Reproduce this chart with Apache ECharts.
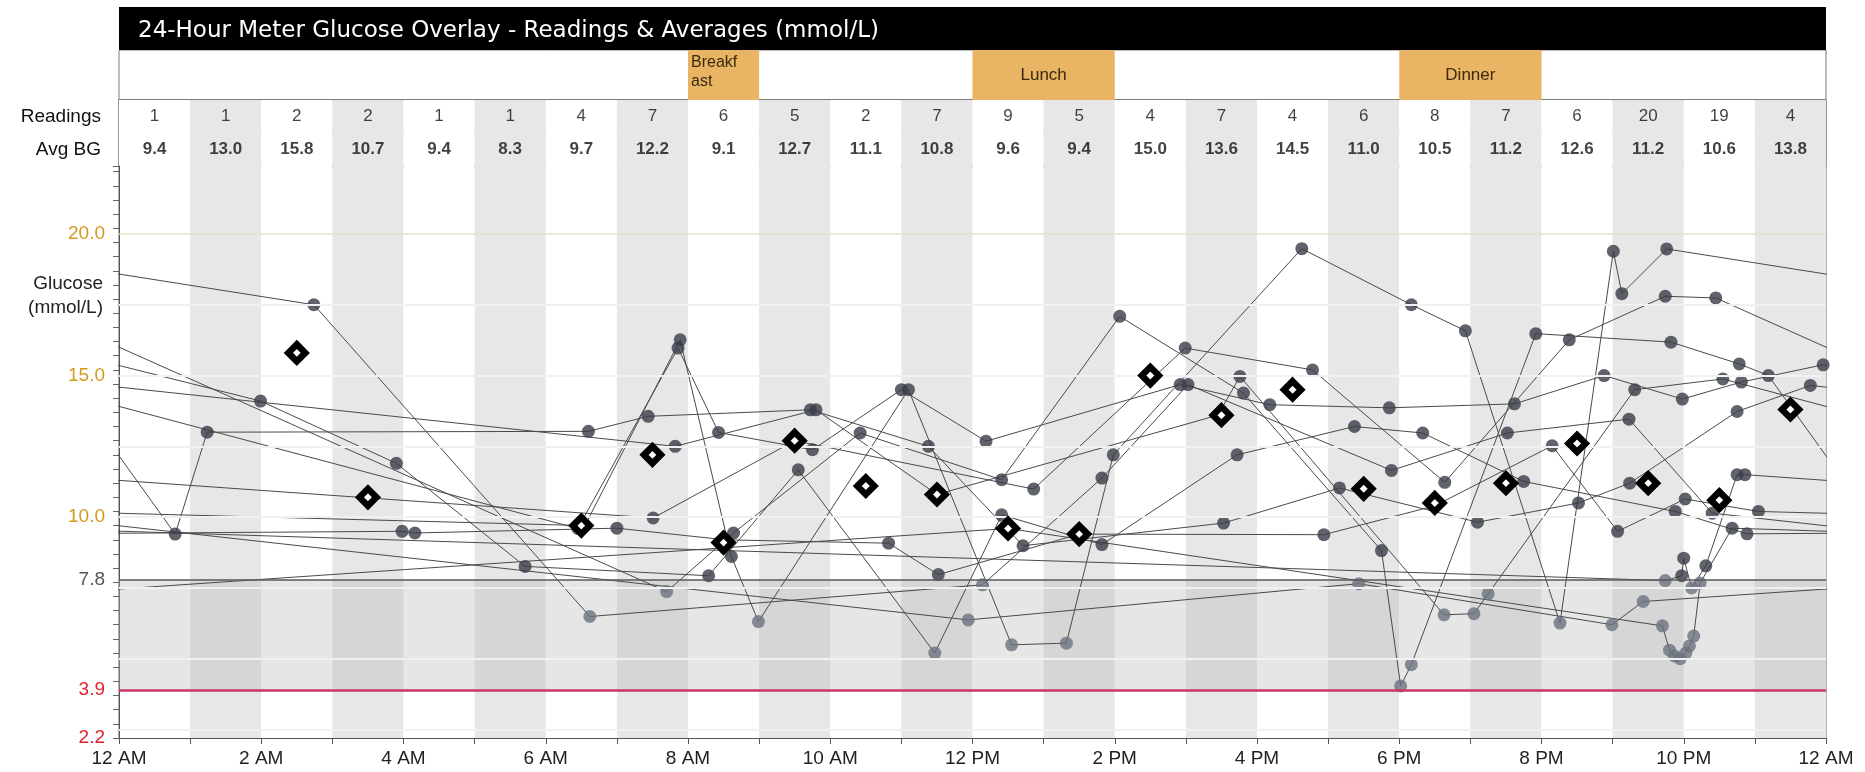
<!DOCTYPE html>
<html>
<head>
<meta charset="utf-8" />
<script src="https://cdn.jsdelivr.net/npm/echarts@6/dist/echarts.min.js"></script>
<style>
  html, body { margin: 0; padding: 0; background: #fff; }
  #main { width: 1865px; height: 772px; }
</style>
</head>
<body>
<div id="main"></div>
<script type="text/javascript">
// ---- data ----
var hourLabels = ['12 AM', '2 AM', '4 AM', '6 AM', '8 AM', '10 AM', '12 PM', '2 PM', '4 PM', '6 PM', '8 PM', '10 PM', '12 AM'];
var readingsCount = [1, 1, 2, 2, 1, 1, 4, 7, 6, 5, 2, 7, 9, 5, 4, 7, 4, 6, 8, 7, 6, 20, 19, 4];
var avgBG = [9.4, 13.0, 15.8, 10.7, 9.4, 8.3, 9.7, 12.2, 9.1, 12.7, 11.1, 10.8, 9.6, 9.4, 15.0, 13.6, 14.5, 11.0, 10.5, 11.2, 12.6, 11.2, 10.6, 13.8];
var meals = [['Breakfast', 8, 9], ['Lunch', 12, 14], ['Dinner', 18, 20]];
var yLabelValues = [2.2, 3.9, 7.8, 10, 15, 20];
var gridValues = [2.5, 5, 7.5, 10, 12.5, 15, 17.5];
var highLine = 20, targetLow = 7.8, hypoLine = 3.9;

// readings per day: [hour of day, mmol/L]
var day1 = [[0.79, 9.4], [1.24, 13.0], [6.6, 13.03], [7.44, 13.56], [9.72, 13.79], [11.38, 12.5], [12.71, 8.99], [15.53, 9.79], [17.16, 11.03], [19.1, 9.82], [20.52, 10.5], [21.24, 11.2], [22.75, 13.73], [23.78, 14.65]];
var day2 = [[1.99, 14.1], [3.9, 11.9], [5.71, 8.26], [8.29, 7.93], [9.55, 11.67], [11.47, 5.2], [12.41, 10.08], [13.82, 9.03], [15.72, 12.2], [17.37, 13.2], [18.33, 12.97], [19.75, 11.26], [21.88, 10.2], [22.89, 9.41]];
var day3 = [[2.74, 17.5], [6.62, 6.49], [12.14, 7.61], [13.82, 11.38], [15.03, 14.68], [17.89, 11.65], [19.52, 12.97], [21.23, 13.46], [22.4, 10.14]];
var day4 = [[3.98, 9.5], [4.16, 9.44], [7.0, 9.61], [8.52, 9.2], [10.82, 9.08], [11.52, 7.97], [13.5, 9.4], [16.94, 9.38], [18.5, 10.4], [20.15, 12.52], [21.07, 9.5], [22.02, 10.64], [23.05, 10.2]];
var day5 = [[6.45, 9.6], [7.86, 15.97], [8.43, 12.99], [9.75, 12.38], [11.0, 14.5], [12.19, 12.68], [14.92, 14.68], [16.18, 13.97], [17.86, 13.86], [19.62, 14.0], [20.88, 15.0], [21.98, 14.17], [22.81, 14.77], [23.96, 15.38]];
var day6 = [[6.55, 9.7], [7.89, 16.26], [8.61, 8.61], [8.99, 6.31], [11.1, 14.5], [12.55, 5.49], [13.32, 5.55], [13.98, 12.2], [16.63, 19.48], [18.17, 17.5], [18.93, 16.58], [20.26, 6.26], [21.01, 19.39], [21.13, 17.89], [21.76, 19.47]];
var day7 = [[7.51, 9.97], [9.5, 12.7], [12.86, 10.99], [14.99, 15.97], [16.78, 15.2], [18.64, 11.23], [20.39, 16.26], [21.74, 17.8], [22.45, 17.74]];
var day8 = [[7.7, 7.37], [8.64, 9.44], [10.42, 12.97], [12.41, 11.32], [14.07, 17.09], [15.81, 14.38], [17.75, 8.82], [18.02, 4.04], [18.17, 4.79], [19.92, 16.48], [21.82, 16.18], [22.78, 15.41], [23.19, 15.0]];
var day9 = [[7.82, 12.5], [9.8, 13.79], [11.5, 10.8], [15.45, 13.6], [15.76, 14.97], [18.63, 6.55], [19.05, 6.59], [19.25, 7.29], [21.31, 14.5], [22.55, 14.88]];
var day10 = [[11.94, 6.37], [17.43, 7.65], [20.99, 6.2], [21.43, 7.02]];
var day11 = [[12.5, 9.6], [21.7, 6.16], [21.8, 5.3], [21.87, 5.1], [21.95, 5.0], [22.03, 5.2], [22.08, 5.45], [22.14, 5.8], [22.23, 7.67], [22.68, 9.61]];
var day12 = [[21.74, 7.76], [21.97, 7.93], [22.0, 8.55], [22.11, 7.5], [22.31, 8.28], [22.75, 11.5], [22.86, 11.5]];

// consecutive days, so each day's trace continues into the next one
var dayOrder = [day8, day1, day9, day5, day2, day4, day6, day3, day10, day11, day12, day7];

// ---- build series ----
var FONT = 'Liberation Sans, Arial, sans-serif';
var series = [];

// light horizontal grid lines
series.push({
  type: 'line', xAxisIndex: 0, yAxisIndex: 0, data: [], z: 1, silent: true,
  markLine: {
    symbol: 'none', silent: true, label: { show: false },
    data: gridValues.map(function (v) {
      return { yAxis: v, lineStyle: { color: '#f1f1f1', width: 2, type: 'solid' } };
    }).concat([{ yAxis: highLine, lineStyle: { color: '#e4e4c2', width: 1.5, type: 'solid' } }])
  }
});

// shaded 3.9-7.8 zone
series.push({
  type: 'line', xAxisIndex: 0, yAxisIndex: 0, data: [], z: 1, silent: true,
  markArea: {
    silent: true,
    itemStyle: { color: 'rgba(185,185,185,0.36)' },
    data: [[{ yAxis: hypoLine }, { yAxis: targetLow }]]
  }
});

// day traces (wrap to previous / next day across midnight)
var n = dayOrder.length;
dayOrder.forEach(function (d, i) {
  var prev = dayOrder[(i - 1 + n) % n];
  var next = dayOrder[(i + 1) % n];
  var p = prev[prev.length - 1];
  var q = next[0];
  var pts = [[p[0] - 24, p[1]]].concat(d).concat([[q[0] + 24, q[1]]]);
  series.push({
    type: 'line', xAxisIndex: 0, yAxisIndex: 0, data: pts, showSymbol: false, symbol: 'none',
    lineStyle: { color: '#4a4a4a', width: 1 }, z: 2, silent: true, clip: true
  });
});

// individual readings (lighter below the target range)
var allReadings = [];
dayOrder.forEach(function (d) { allReadings = allReadings.concat(d); });
series.push({
  type: 'scatter', xAxisIndex: 0, yAxisIndex: 0, data: allReadings, symbolSize: 13,
  itemStyle: {
    color: function (p) { return p.value[1] < targetLow ? '#6c7380' : '#383c46'; }
  },
  z: 3, silent: true
});

// threshold lines
series.push({
  type: 'line', xAxisIndex: 0, yAxisIndex: 0, data: [], z: 4, silent: true,
  markLine: {
    symbol: 'none', silent: true, label: { show: false },
    data: [
      { yAxis: targetLow, lineStyle: { color: '#5a5a5a', width: 1.5, type: 'solid' } },
      { yAxis: hypoLine, lineStyle: { color: '#cc3366', width: 2.5, type: 'solid' } }
    ]
  }
});

// hourly averages (hours with 2+ readings)
var avgPoints = [];
avgBG.forEach(function (v, h) { if (readingsCount[h] >= 2) avgPoints.push([h + 0.5, v]); });
series.push({
  type: 'scatter', xAxisIndex: 0, yAxisIndex: 0, data: avgPoints, symbol: 'diamond', symbolSize: 17,
  itemStyle: { color: '#ffffff', borderColor: '#000000', borderWidth: 6.5, opacity: 1 }, z: 6, silent: true
});

// table rows
series.push({
  type: 'scatter', xAxisIndex: 1, yAxisIndex: 1, symbolSize: 0, silent: true,
  data: readingsCount.map(function (c, i) { return [i, 'Readings', c]; }),
  label: { show: true, position: 'inside', formatter: function (p) { return p.value[2]; },
    color: '#111', fontSize: 17, fontFamily: FONT }
});
series.push({
  type: 'scatter', xAxisIndex: 1, yAxisIndex: 1, symbolSize: 0, silent: true,
  data: avgBG.map(function (v, i) { return [i, 'Avg BG', v.toFixed(1)]; }),
  label: { show: true, position: 'inside', formatter: function (p) { return p.value[2]; },
    color: '#111', fontSize: 17, fontWeight: 'bold', fontFamily: FONT }
});

// meal blocks
series.push({
  type: 'custom', xAxisIndex: 2, yAxisIndex: 2, silent: true,
  data: meals.map(function (m) { return [m[1], m[2], m[0]]; }),
  renderItem: function (params, api) {
    var a = api.coord([api.value(0), 1]);
    var b = api.coord([api.value(1), 0]);
    var w = b[0] - a[0];
    var name = meals[params.dataIndex][0];
    var narrow = w < 100;
    return {
      type: 'rect',
      shape: { x: a[0], y: a[1], width: w, height: b[1] - a[1] },
      style: { fill: '#e9b463' },
      textContent: {
        style: { text: name, fill: '#3a2a10', font: (narrow ? '16px ' : '17px ') + FONT,
          width: narrow ? 54 : undefined, overflow: narrow ? 'breakAll' : undefined, lineHeight: 19 }
      },
      textConfig: { position: narrow ? 'insideTopLeft' : 'inside', distance: 3 }
    };
  }
});

var option = {
  animation: false,
  backgroundColor: '#fff',
  title: {
    text: '24-Hour Meter Glucose Overlay - Readings & Averages (mmol/L)',
    left: 133, top: 15,
    textStyle: { color: '#fff', fontSize: 23, fontWeight: 'normal', fontFamily: 'DejaVu Sans' }
  },
  graphic: [
    { type: 'rect', z: 0, shape: { x: 119, y: 7, width: 1707, height: 43 }, style: { fill: '#000' } },
    { type: 'text', z: 10, x: 103, y: 272,
      style: { text: 'Glucose\n(mmol/L)', align: 'right', verticalAlign: 'top', fill: '#222',
        font: '19px ' + FONT, lineHeight: 24 } }
  ],
  grid: [
    { left: 119, right: 39, top: 166, bottom: 34, show: true, borderColor: '#666', borderWidth: 1 },
    { left: 119, right: 39, top: 100, height: 66, show: true, borderColor: '#7a7a7a', borderWidth: 1.5 },
    { left: 119, right: 39, top: 50, height: 50, show: true, borderColor: '#7a7a7a', borderWidth: 1 }
  ],
  xAxis: [
    {
      gridIndex: 0, type: 'value', min: 0, max: 24, interval: 1,
      axisLine: { show: true, lineStyle: { color: '#555' } },
      axisTick: { show: true, length: 6, lineStyle: { color: '#555' } },
      axisLabel: {
        margin: 11, fontSize: 19, color: '#222', fontFamily: FONT,
        formatter: function (v) { return v % 2 === 0 ? hourLabels[v / 2] : ''; }
      },
      splitLine: { show: false },
      splitArea: { show: true, areaStyle: { color: ['#ffffff', '#e7e7e7'] } }
    },
    {
      gridIndex: 1, type: 'category', data: readingsCount.map(function (c, i) { return i; }),
      axisLine: { show: false }, axisTick: { show: false }, axisLabel: { show: false },
      splitLine: { show: false },
      splitArea: { show: true, areaStyle: { color: ['#ffffff', '#e7e7e7'] } }
    },
    { gridIndex: 2, type: 'value', min: 0, max: 24, show: false }
  ],
  yAxis: [
    {
      gridIndex: 0, type: 'value', min: 2.2, max: 22.4, interval: 0.5,
      axisLine: { show: true, lineStyle: { color: '#555' } },
      axisTick: { show: true, length: 6, lineStyle: { color: '#666' } },
      axisLabel: {
        customValues: yLabelValues, margin: 14, fontFamily: FONT,
        formatter: function (v) {
          var t = v >= 10 ? v.toFixed(1) : String(v);
          var k = v >= 10 ? 'g' : (v >= 7 ? 'k' : 'r');
          return '{' + k + '|' + t + '}';
        },
        rich: {
          g: { color: '#d39a1c', fontSize: 19, fontFamily: FONT },
          k: { color: '#555555', fontSize: 19, fontFamily: FONT },
          r: { color: '#e3202c', fontSize: 19, fontFamily: FONT }
        }
      },
      splitLine: { show: false }
    },
    {
      gridIndex: 1, type: 'category', data: ['Avg BG', 'Readings'],
      axisLine: { show: false }, axisTick: { show: false },
      axisLabel: { margin: 18, fontSize: 19, color: '#111', fontFamily: FONT },
      splitLine: { show: true, lineStyle: { color: '#7a7a7a', width: 1.5 } }
    },
    { gridIndex: 2, type: 'value', min: 0, max: 1, show: false }
  ],
  series: series
};

var chart = echarts.init(document.getElementById('main'));
chart.setOption(option);
</script>
</body>
</html>
